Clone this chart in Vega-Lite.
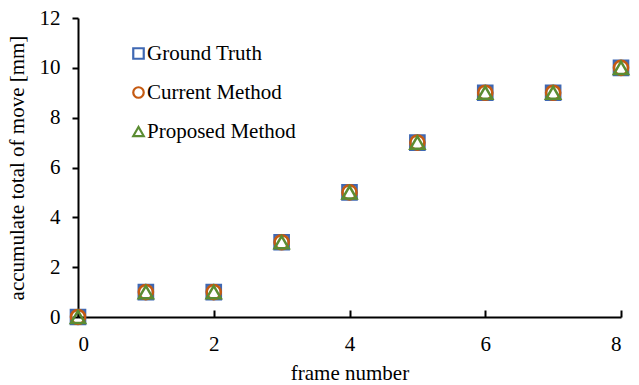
{
  "$schema": "https://vega.github.io/schema/vega-lite/v6.json",
  "width": 543,
  "height": 299,
  "autosize": "none",
  "padding": {"left": 78, "top": 18, "right": 18, "bottom": 68},
  "background": "white",
  "config": {
    "font": "Liberation Serif, Times New Roman, serif",
    "view": {"stroke": null}
  },
  "data": {
    "values": [
      {"frame": 0, "move": 0, "series": "Ground Truth"},
      {"frame": 1, "move": 1, "series": "Ground Truth"},
      {"frame": 2, "move": 1, "series": "Ground Truth"},
      {"frame": 3, "move": 3, "series": "Ground Truth"},
      {"frame": 4, "move": 5, "series": "Ground Truth"},
      {"frame": 5, "move": 7, "series": "Ground Truth"},
      {"frame": 6, "move": 9, "series": "Ground Truth"},
      {"frame": 7, "move": 9, "series": "Ground Truth"},
      {"frame": 8, "move": 10, "series": "Ground Truth"},
      {"frame": 0, "move": 0, "series": "Current Method"},
      {"frame": 1, "move": 1, "series": "Current Method"},
      {"frame": 2, "move": 1, "series": "Current Method"},
      {"frame": 3, "move": 3, "series": "Current Method"},
      {"frame": 4, "move": 5, "series": "Current Method"},
      {"frame": 5, "move": 7, "series": "Current Method"},
      {"frame": 6, "move": 9, "series": "Current Method"},
      {"frame": 7, "move": 9, "series": "Current Method"},
      {"frame": 8, "move": 10, "series": "Current Method"},
      {"frame": 0, "move": 0, "series": "Proposed Method"},
      {"frame": 1, "move": 1, "series": "Proposed Method"},
      {"frame": 2, "move": 1, "series": "Proposed Method"},
      {"frame": 3, "move": 3, "series": "Proposed Method"},
      {"frame": 4, "move": 5, "series": "Proposed Method"},
      {"frame": 5, "move": 7, "series": "Proposed Method"},
      {"frame": 6, "move": 9, "series": "Proposed Method"},
      {"frame": 7, "move": 9, "series": "Proposed Method"},
      {"frame": 8, "move": 10, "series": "Proposed Method"}
    ]
  },
  "mark": {"type": "point", "filled": false, "strokeWidth": 2.5, "opacity": 1, "size": 200},
  "encoding": {
    "x": {
      "field": "frame", "type": "quantitative",
      "scale": {"domain": [0, 8], "nice": false, "zero": false},
      "axis": {
        "title": "frame number", "values": [0, 2, 4, 6, 8], "grid": false,
        "domainColor": "black", "domainWidth": 2, "tickColor": "black", "tickWidth": 2, "tickSize": -7,
        "labelFont": "Liberation Serif, Times New Roman, serif", "labelFontSize": 21, "labelColor": "black", "labelPadding": 23,
        "titleFont": "Liberation Serif, Times New Roman, serif", "titleFontSize": 21, "titleFontWeight": "normal", "titleColor": "black", "titlePadding": 8
      }
    },
    "y": {
      "field": "move", "type": "quantitative",
      "scale": {"domain": [0, 12], "nice": false},
      "axis": {
        "title": "accumulate total of move [mm]", "values": [0, 2, 4, 6, 8, 10, 12], "grid": false,
        "domainColor": "black", "domainWidth": 2, "tickColor": "black", "tickWidth": 2, "tickSize": 6,
        "labelFont": "Liberation Serif, Times New Roman, serif", "labelFontSize": 21, "labelColor": "black", "labelPadding": 12,
        "titleFont": "Liberation Serif, Times New Roman, serif", "titleFontSize": 21, "titleFontWeight": "normal", "titleColor": "black", "titlePadding": 12
      }
    },
    "color": {
      "field": "series", "type": "nominal",
      "scale": {"domain": ["Ground Truth", "Current Method", "Proposed Method"], "range": ["#3F68B3", "#C55A11", "#5B8C32"]},
      "legend": {
        "title": null, "orient": "none", "legendX": 50, "legendY": 25,
        "labelFont": "Liberation Serif, Times New Roman, serif", "labelFontSize": 21, "labelColor": "black", "labelOffset": -2,
        "symbolSize": 110, "symbolStrokeWidth": 2.2, "rowPadding": 17, "symbolFillColor": "transparent"
      }
    },
    "shape": {
      "field": "series", "type": "nominal",
      "scale": {"domain": ["Ground Truth", "Current Method", "Proposed Method"], "range": ["square", "circle", "triangle-up"]},
      "legend": null
    }
  }
}
